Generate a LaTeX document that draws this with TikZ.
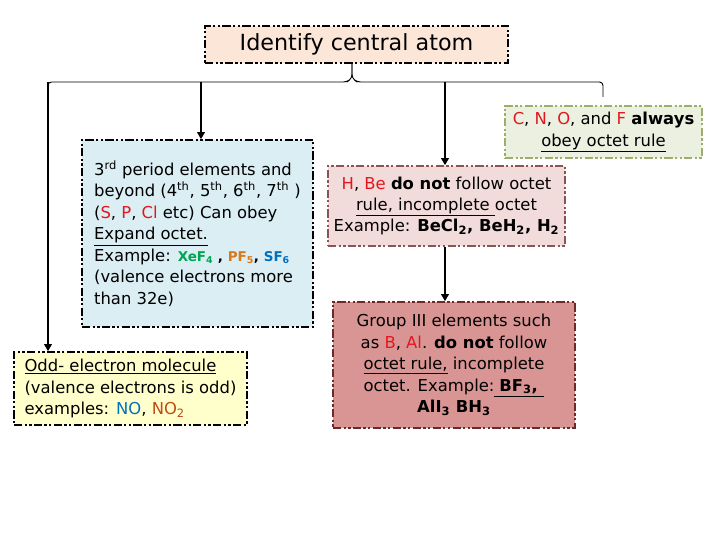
\documentclass[tikz,border=0pt]{standalone}
\usepackage{fontspec}
\setmainfont{DejaVu Sans}
\usepackage{xcolor}
\usetikzlibrary{arrows.meta}
\definecolor{top-bg}{HTML}{FCE6D8}
\definecolor{blue-bg}{HTML}{DBEEF4}
\definecolor{yellow-bg}{HTML}{FFFFCC}
\definecolor{green-bg}{HTML}{EBF0E0}
\definecolor{green-line}{HTML}{9BAF6B}
\definecolor{pink-bg}{HTML}{F2DCDB}
\definecolor{rose-bg}{HTML}{D99594}
\definecolor{brown-line}{HTML}{6B2A28}
\definecolor{el-red}{HTML}{E3161E}
\definecolor{ex-green}{HTML}{00A550}
\definecolor{ex-orange}{HTML}{D9791A}
\definecolor{ex-blue}{HTML}{0070C0}
\definecolor{ex-brown}{HTML}{C24A16}

\begin{document}
\begin{tikzpicture}[x=0.03cm, y=-0.03cm,
    every node/.style={font=\fontsize{14}{18.3}\selectfont},
    boxstyle/.style={draw, line width=1.4pt, dash pattern=on 7pt off 2pt on 2pt off 2pt on 2pt off 2pt, inner sep=3pt},
    arrowline/.style={line width=1.4pt, -{Triangle[length=6pt,width=6.5pt]}},
    braceline/.style={line width=0.8pt, rounded corners=3pt}]
    \useasboundingbox (0,0) rectangle (720,540);

    \node[boxstyle, line width=1.9pt, fill=top-bg, minimum width=9.09cm, minimum height=1.11cm, font=\fontsize{19}{22}\selectfont] (central) at (356.5,44.5) {Identify central atom};
    \node[boxstyle, fill=blue-bg, minimum width=6.93cm, minimum height=5.61cm, align=left] (expand) at (197.5,233.5) {3\textsuperscript{rd} period elements and\\beyond (4\textsuperscript{th}, 5\textsuperscript{th}, 6\textsuperscript{th}, 7\textsuperscript{th} )\\(\textcolor{el-red}{S}, \textcolor{el-red}{P}, \textcolor{el-red}{Cl} etc) Can obey\\\underline{Expand octet.}\\Example: {\fontsize{11.5}{12}\selectfont\bfseries\textcolor{ex-green}{XeF\textsubscript{4}} , \textcolor{ex-orange}{PF\textsubscript{5}}, \textcolor{ex-blue}{SF\textsubscript{6}}}\\(valence electrons more\\than 32e)};
    \node[boxstyle, fill=yellow-bg, minimum width=6.99cm, minimum height=2.19cm, align=left] (odd) at (130.5,388.5) {\underline{Odd- electron molecule}\\(valence electrons is odd)\\examples: \textcolor{ex-blue}{NO}, \textcolor{ex-brown}{NO\textsubscript{2}}};
    \node[boxstyle, draw=green-line, fill=green-bg, minimum width=5.91cm, minimum height=1.56cm, align=center] (always) at (603.5,132) {\textcolor{el-red}{C}, \textcolor{el-red}{N}, \textcolor{el-red}{O}, and \textcolor{el-red}{F} \textbf{always}\\\underline{obey octet rule}};
    \node[boxstyle, draw=brown-line!80, fill=pink-bg, minimum width=7.11cm, minimum height=2.4cm, align=center] (incomplete) at (446.5,206) {\textcolor{el-red}{H}, \textcolor{el-red}{Be} \textbf{do not} follow octet\\\underline{rule, incomplete }octet\\Example: \textbf{BeCl\textsubscript{2}, BeH\textsubscript{2}, H\textsubscript{2}}};
    \node[boxstyle, draw=brown-line, fill=rose-bg, minimum width=7.26cm, minimum height=3.78cm, align=center] (groupiii) at (454,365) {Group III elements such\\as \textcolor{el-red}{B}, \textcolor{el-red}{Al}. \textbf{do not} follow\\\underline{octet rule,} incomplete\\octet. Example:\underline{\textbf{\hspace*{0.3em}BF\textsubscript{3},\hspace*{0.4em}}}\\\textbf{AlI\textsubscript{3} BH\textsubscript{3}}};

    % brace under the top box
    \coordinate (hubL) at (48,82);
    \coordinate (hubM) at (352,82);
    \coordinate (hubR) at (603,82);
    \coordinate (dropA) at (201,82);
    \coordinate (dropB) at (445,82);
    \draw[braceline] (central.south -| hubM) -- (352,78) -- (347,82) -- (hubL) -- (48,95);
    \draw[braceline] (central.south -| hubM) -- (352,78) -- (357,82) -- (hubR) -- (603,97);

    \draw[arrowline] (hubL) -- (hubL |- odd.north);
    \draw[arrowline] (dropA) -- (dropA |- expand.north);
    \draw[arrowline] (dropB) -- (dropB |- incomplete.north);
    \draw[arrowline] (incomplete.south -| dropB) -- (groupiii.north -| dropB);
\end{tikzpicture}
\end{document}
